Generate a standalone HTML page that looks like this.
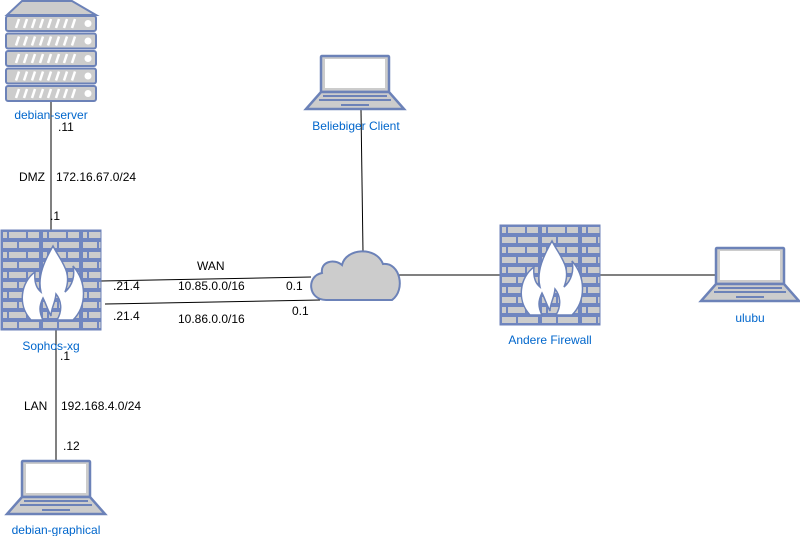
<!DOCTYPE html>
<html><head><meta charset="utf-8"><style>
body{margin:0;background:#fff;width:800px;height:536px;overflow:hidden}
svg{display:block}
text{font-family:"Liberation Sans",sans-serif;font-size:12px}
.b{fill:#0066cc}
</style></head><body>
<svg width="800" height="536" viewBox="0 0 800 536">
<defs>
<pattern id="brick" width="40" height="20" patternUnits="userSpaceOnUse">
<rect width="40" height="20" fill="#7086c0"/>
<rect x="2" y="2" width="4" height="6" fill="#ccc"/>
<rect x="8" y="2" width="17" height="6" fill="#ccc"/>
<rect x="27" y="2" width="11" height="6" fill="#ccc"/>
<rect x="2" y="12" width="14" height="6" fill="#ccc"/>
<rect x="18" y="12" width="20" height="6" fill="#ccc"/>
</pattern>
<g id="fw">
<rect x="0" y="0" width="100" height="100" fill="url(#brick)" stroke="#6c82b8" stroke-width="1"/>
<path d="M52 16 C60 32 72 42 64 62 C72 55 74 45 72 36 C86 52 86 76 72 90 L56 90 C62 80 60 70 55 64 C54 74 50 78 50 86 C46 78 45 74 42 68 C38 76 38 82 42 90 L30 90 C16 75 20 52 34 42 C33 52 35 58 40 62 C36 46 44 30 52 16 Z" fill="#fff" stroke="#6c82b8" stroke-width="1.5"/>
</g>
<g id="lap">
<rect x="16" y="1" width="68" height="36" rx="1" fill="#ccc" stroke="#6c82b8" stroke-width="2.5"/>
<rect x="20" y="4" width="60" height="29" fill="#fff"/>
<path d="M16 37 L84 37 L99 54 L1 54 Z" fill="#ccc" stroke="#6c82b8" stroke-width="2.5"/>
<line x1="18" y1="41" x2="82" y2="41" stroke="#6c82b8" stroke-width="2"/>
<line x1="14" y1="45" x2="86" y2="45" stroke="#6c82b8" stroke-width="2"/>
<line x1="36" y1="50" x2="64" y2="50" stroke="#6c82b8" stroke-width="2"/>
</g>
<g id="unit">
<rect x="0" y="0" width="90" height="15" rx="2" fill="#ccc" stroke="#6c82b8" stroke-width="2"/>
<g stroke="#fff" stroke-width="2.5"><line x1="10" y1="12" x2="13" y2="3"/><line x1="18" y1="12" x2="21" y2="3"/><line x1="26" y1="12" x2="29" y2="3"/><line x1="34" y1="12" x2="37" y2="3"/><line x1="42" y1="12" x2="45" y2="3"/><line x1="50" y1="12" x2="53" y2="3"/><line x1="58" y1="12" x2="61" y2="3"/><line x1="66" y1="12" x2="69" y2="3"/></g>
<circle cx="82" cy="7.5" r="3.5" fill="#fff"/>
</g>
</defs>
<g stroke="#000" stroke-width="1" fill="none">
<line x1="51" y1="100" x2="51" y2="230"/>
<line x1="56" y1="330" x2="56" y2="460"/>
<line x1="101" y1="281" x2="311" y2="277"/>
<line x1="105" y1="304" x2="320" y2="300"/>
<line x1="361" y1="110" x2="363" y2="252"/>
<line x1="392" y1="275" x2="500" y2="275"/>
<line x1="600" y1="275" x2="715" y2="275"/>
</g>
<path d="M7 15 L22 1 L72 1 L96 15 Z" fill="#ccc" stroke="#6c82b8" stroke-width="2"/>
<use href="#unit" x="6" y="16"/><use href="#unit" x="6" y="33.5"/><use href="#unit" x="6" y="51"/><use href="#unit" x="6" y="68.5"/><use href="#unit" x="6" y="86"/>
<use href="#fw" x="1" y="230"/>
<use href="#fw" x="500" y="225"/>
<use href="#lap" x="305" y="55"/>
<use href="#lap" x="6" y="460"/>
<use href="#lap" x="700" y="247"/>
<path d="M326 300 C308 300 306 276 322 273 C320 262 334 258 342 265 C346 248 376 246 383 264 C400 262 406 290 392 300 Z" fill="#ccc" stroke="#6c82b8" stroke-width="2"/>
<text class="b" x="51" y="119" text-anchor="middle">debian-server</text>
<text x="58" y="131">.11</text>
<text x="19" y="181">DMZ</text>
<text x="56" y="181">172.16.67.0/24</text>
<text x="50" y="220">.1</text>
<text class="b" x="51" y="350" text-anchor="middle">Sophos-xg</text>
<text x="60" y="360">.1</text>
<text x="24" y="410">LAN</text>
<text x="61" y="410">192.168.4.0/24</text>
<text x="63" y="450">.12</text>
<text class="b" x="56" y="534" text-anchor="middle">debian-graphical</text>
<text x="113" y="290">.21.4</text>
<text x="113" y="320">.21.4</text>
<text x="197" y="270">WAN</text>
<text x="178" y="290">10.85.0.0/16</text>
<text x="178" y="323">10.86.0.0/16</text>
<text x="286" y="290">0.1</text>
<text x="292" y="315">0.1</text>
<text class="b" x="356" y="130" text-anchor="middle">Beliebiger Client</text>
<text class="b" x="550" y="344" text-anchor="middle">Andere Firewall</text>
<text class="b" x="750" y="322" text-anchor="middle">ulubu</text>
</svg>
</body></html>
